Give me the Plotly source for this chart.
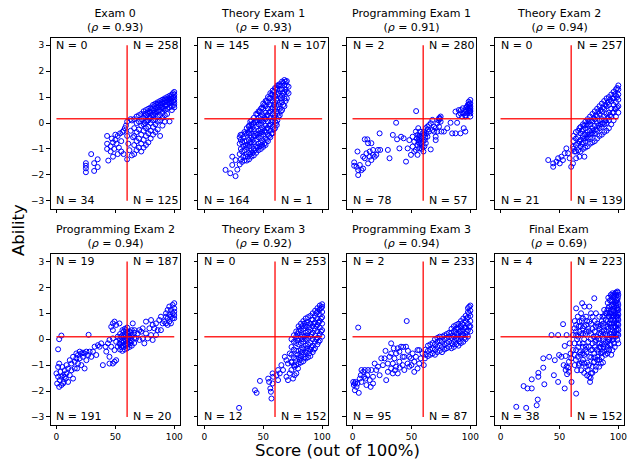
import plotly.graph_objects as go

titles = ["Exam 0", "Theory Exam 1", "Programming Exam 1", "Theory Exam 2",
          "Programming Exam 2", "Theory Exam 3", "Programming Exam 3", "Final Exam"]
rhos = ["0.93", "0.93", "0.91", "0.94", "0.94", "0.92", "0.94", "0.69"]
n_top_left = [0, 145, 2, 0, 19, 0, 2, 4]
n_top_right = [258, 107, 280, 257, 187, 253, 233, 223]
n_bottom_left = [34, 164, 78, 21, 191, 12, 95, 38]
n_bottom_right = [125, 1, 57, 139, 20, 152, 87, 152]
score_cut = 60
ability_cut = [0.16, 0.16, 0.16, 0.16, 0.09, 0.09, 0.09, 0.09]
x_ticks = [0, 50, 100]
y_ticks = [-3, -2, -1, 0, 1, 2, 3]

# points grouped as (score, [abilities...])
exam0 = [
    (25, [-1.55, -1.65, -1.75, -1.9]), (29.5, [-1.2]), (32, [-1.55, -1.85]), (35, [-1.4, -1.7]),
    (43, [-0.5, -0.8, -1.0]), (44, [-1.45]), (46, [-1.1, -0.9]), (47, [-0.6]), (48, [-1.3, -0.75]),
    (49, [-1.0]), (50, [-0.45, -0.65]), (51, [-0.8]), (52, [-1.2, -0.5]), (53, [-0.95]), (54, [-0.4]),
    (55, [-0.7, -1.1]), (56, [-0.35]), (57, [-0.3, -1.2]),
    (58, [-0.2]), (59, [-0.1]), (60, [0.05, -0.5, -1.4]), (61, [-0.8]), (62, [-1.05]), (63, [-0.3, 0.15]),
    (64, [0.1, -1.25]), (65, [-0.55]),
    (66, [0.15, -0.2, -0.5, -0.85, -1.2]), (68, [0.25, 0.0, -0.35, -0.7, -1.05]),
    (70, [0.3, 0.05, -0.25, -0.6, -0.95]), (72, [0.35, 0.15, -0.1, -0.45, -0.8, -1.1]),
    (74, [0.45, 0.2, -0.05, -0.3, -0.65, -0.95]), (76, [0.5, 0.3, 0.05, -0.2, -0.5, -0.85]),
    (78, [0.55, 0.35, 0.1, -0.15, -0.4, -0.75]), (80, [0.6, 0.4, 0.2, 0.0, -0.3, -0.6]),
    (82, [0.7, 0.5, 0.3, 0.1, -0.15, -0.45]), (84, [0.75, 0.55, 0.35, 0.15, -0.05, -0.35]),
    (86, [0.8, 0.6, 0.45, 0.25, 0.05, -0.25]), (88, [0.85, 0.7, 0.5, 0.3, 0.1, -0.5]),
    (90, [0.9, 0.75, 0.6, 0.4, 0.2, -0.1]), (92, [0.95, 0.8, 0.65, 0.5, 0.3, 0.05]),
    (94, [1.0, 0.85, 0.7, 0.55, 0.35]), (96, [1.05, 0.9, 0.75, 0.6, 0.06]),
    (98, [1.1, 0.95, 0.8, 0.65, 0.5]), (100, [1.2, 1.1, 1.0, 0.9, 0.8, 0.7, 0.6]),
    (75, [0.35, 0.0]), (77, [0.4, 0.1]), (79, [0.45, 0.2]), (81, [0.55, 0.3]), (83, [0.65, 0.4]),
    (85, [0.7, 0.45]), (87, [0.75, 0.5]), (89, [0.8, 0.6]), (91, [0.85, 0.55]), (93, [0.9, 0.7]),
    (95, [0.95, 0.8]), (97, [1.0, 0.85]), (99, [1.15, 1.0, 0.85]),
]

theory1 = [
    (18, [-1.81]), (22, [-1.94]), (23.7, [-1.62, -1.3]), (26.5, [-2.05, -1.43]), (28, [-1.8]),
    (30.7, [-0.46]), (37.7, [-0.14]), (39, [0.05]), (61.5, [-0.08]),
    (30, [-1.6, -1.2, -0.8, -0.55]),
    (32, [-1.5, -1.1, -0.75, -0.45]),
    (34, [-1.45, -1.05, -0.7, -0.35]),
    (36, [-1.45, -1.2, -0.95, -0.7, -0.45, -0.2]),
    (38, [-1.4, -1.15, -0.9, -0.65, -0.4, -0.1]),
    (40, [-1.3, -1.05, -0.8, -0.55, -0.3, -0.05, 0.1]),
    (42, [-1.25, -1.0, -0.75, -0.5, -0.25, 0.0, 0.2]),
    (44, [-1.15, -0.9, -0.65, -0.4, -0.15, 0.1, 0.35]),
    (46, [-1.05, -0.8, -0.55, -0.3, -0.05, 0.2, 0.45]),
    (48, [-1.0, -0.75, -0.5, -0.25, 0.0, 0.25, 0.55]),
    (50, [-0.92, -0.7, -0.45, -0.2, 0.05, 0.3, 0.55, 0.75]),
    (52, [-0.85, -0.6, -0.35, -0.1, 0.15, 0.4, 0.65, 0.85]),
    (54, [-0.7, -0.45, -0.2, 0.05, 0.3, 0.55, 0.8, 1.0]),
    (56, [-0.55, -0.3, -0.05, 0.2, 0.45, 0.7, 0.95, 1.15]),
    (58, [-0.4, -0.15, 0.1, 0.35, 0.6, 0.85, 1.1, 1.25]),
    (60, [-0.2, 0.05, 0.3, 0.55, 0.8, 1.05, 1.35]),
    (62, [0.1, 0.35, 0.6, 0.85, 1.1, 1.3, 1.45]),
    (64, [0.3, 0.55, 0.8, 1.05, 1.3, 1.5]),
    (66, [0.5, 0.8, 1.05, 1.3, 1.6]),
    (68, [0.65, 0.95, 1.2, 1.45, 1.66]),
    (70, [0.95, 1.2, 1.45, 1.62]),
    (71.5, [1.15, 1.4]),
    (31, [-1.4, -1.0, -0.65]), (33, [-1.3, -0.9, -0.55]), (35, [-1.3, -0.85, -0.4]),
    (37, [-1.3, -0.85, -0.35]), (39, [-1.2, -0.75, -0.25]), (41, [-1.15, -0.65, -0.15]),
    (43, [-1.05, -0.5, 0.05]), (45, [-0.95, -0.45, 0.05, 0.35]), (47, [-0.9, -0.4, 0.1, 0.45]),
    (49, [-0.85, -0.35, 0.1, 0.6]), (51, [-0.8, -0.3, 0.2, 0.7]), (53, [-0.65, -0.2, 0.3, 0.85]),
    (55, [-0.5, -0.1, 0.4, 0.95]), (57, [-0.4, 0.05, 0.55, 1.1]), (59, [-0.25, 0.2, 0.7, 1.2]),
    (61, [0.0, 0.45, 0.9, 1.35]), (63, [0.25, 0.7, 1.15, 1.45]), (65, [0.45, 0.95, 1.45]),
    (67, [0.7, 1.15, 1.55]), (69, [0.85, 1.3, 1.6]),
]

prog1 = [
    (1.4, [-1.52, -1.65]), (3.4, [-1.69]), (4.8, [-1.82, -2.01]), (6.2, [-1.62]), (7.6, [-1.82]),
    (9, [-1.76, -1.3]), (4.2, [-1.1]),
    (10.4, [-0.63, -1.36]), (12.6, [-0.63]), (13.2, [-0.78, -1.56]), (16, [-0.78, -1.43]),
    (11.8, [-1.17]), (14.6, [-1.1, -1.3]), (17.4, [-1.23, -1.04]), (20.2, [-1.23]), (18.8, [-1.3]),
    (21.6, [-1.04]), (23, [-0.4]), (23.5, [-1.04]),
    (30, [-1.04]), (31.4, [-1.36]), (34.2, [-0.46]), (37, [0.01]), (37.8, [-0.63]), (39.8, [-0.98]),
    (41.2, [-0.53]), (43.4, [-0.59]), (45.4, [-1.49]), (46.8, [-0.98]), (48.2, [-0.66]),
    (49.6, [-1.23]), (51, [-0.91, -0.53]), (52.4, [-1.1, -0.72]),
    (53.8, [-0.33, -1.04]), (55.2, [-0.46, -0.85, -1.23]), (56.6, [-0.66, -0.98]), (58, [-0.78, -0.53]),
    (59.4, [-0.91, -0.4]), (60.8, [-0.33]), (62.2, [-0.2, -0.78]), (63.6, [-0.14, -0.53]),
    (65, [-0.08, -0.33]), (61.3, [-0.66]), (66.4, [-1.02, -0.01]), (54, [0.46]), (60.2, [-1.1]),
    (57.4, [-0.33]), (55.8, [-0.2]),
    (57, [-0.5, -0.8]), (58.8, [-0.6, -1.0]), (61, [-0.45, -0.9]), (62.8, [-0.4]), (64, [-0.25]),
    (56, [-0.55, -0.75]), (54.5, [-0.6]), (59.8, [-0.7]), (61.8, [-0.55]),
    (67.8, [0.12, -0.27]), (69.2, [-0.14, -0.33]), (70.6, [-0.2, -0.53, -0.66]), (72, [-0.01, -0.33]),
    (73.4, [0.18, -0.14]), (74.8, [0.25, 0.05]), (75.4, [-0.33]), (74, [0.15, 0.2]), (73, [0.1]),
    (77.6, [-0.33]), (80.4, [-0.2]), (83.2, [0.01]), (84.6, [-0.4]), (87.4, [-0.4, 0.44]),
    (90.2, [0.5, 0.3]), (91.6, [0.37, -0.4]), (93, [0.25]), (94.4, [0.37, -0.2]),
    (95.8, [0.5, 0.25, -0.33, 0.3]), (97.2, [0.63, 0.37]), (98.6, [0.69, 0.5, 0.82]),
    (100, [0.76, 0.57, 0.37, 0.25, 0.89, 0.65, 0.5, 0.45]), (88.8, [0.01]), (92, [0.5]), (93.6, [0.57]),
    (99.3, [0.6, 0.75, 0.45]), (97.9, [0.55, 0.7]), (96.5, [0.45, 0.6]),
]

theory2 = [
    (40.5, [-1.43]), (44.7, [-1.56, -1.69]), (47.5, [-1.49]), (50.3, [-1.56]), (51.7, [-1.3]),
    (54.5, [-1.17]), (55.9, [-0.98]), (58.7, [-1.36]), (60, [-1.69]), (61.5, [-1.56, -0.91]),
    (64.2, [-1.36]), (53, [-1.43]), (48.9, [-1.36]), (57.3, [-1.17]), (71.2, [-1.3]), (67, [-1.3]),
    (62.8, [-1.1]),
    (62, [-1.0, -0.7, -0.5]), (64, [-1.1, -0.85, -0.6, -0.35]), (66, [-1.05, -0.8, -0.55, -0.3]),
    (67, [-0.7, -0.2]), (68, [-1.1, -0.9, -0.65, -0.4, -0.15]), (69, [-0.8, -0.3]),
    (70, [-1.0, -0.75, -0.5, -0.25, -0.05]), (71, [-0.6, -0.1]),
    (72, [-0.95, -0.7, -0.45, -0.2, 0.05]), (73, [-0.55, -0.05]),
    (74, [-0.9, -0.6, -0.35, -0.1, 0.15]), (75, [-0.45, 0.05]),
    (76, [-0.8, -0.55, -0.3, -0.05, 0.25]), (77, [-0.4, 0.1]),
    (78, [-0.75, -0.45, -0.2, 0.05, 0.35]), (79, [-0.3, 0.2]),
    (80, [-0.7, -0.4, -0.1, 0.15, 0.45]), (81, [-0.25, 0.3]),
    (82, [-0.6, -0.3, 0.0, 0.25, 0.55]), (83, [-0.1, 0.45]),
    (84, [-0.5, -0.2, 0.1, 0.35, 0.65]), (85, [-0.05, 0.5]),
    (86, [-0.45, -0.15, 0.15, 0.45, 0.75]), (87, [0.0, 0.6]),
    (88, [-0.35, -0.05, 0.25, 0.55, 0.85]), (89, [0.1, 0.7]),
    (90, [-0.3, 0.0, 0.35, 0.65, 0.95]), (91, [0.2, 0.8]),
    (92, [-0.2, 0.1, 0.4, 0.7, 1.0]), (93, [0.3, 0.9]),
    (94, [-0.05, 0.25, 0.55, 0.85, 1.1]), (95, [0.4, 0.95]),
    (96, [0.1, 0.4, 0.7, 0.95, 1.2]), (97, [0.55, 1.1]),
    (98, [0.25, 0.55, 0.8, 1.05, 1.3]), (99, [0.6, 1.0, 1.35]),
    (100, [0.4, 0.65, 0.9, 1.1, 1.3, 1.45]),
]

prog2 = [
    (0, [-1.32]), (0.6, [-1.71]), (1.4, [-1.45, -1.07, -0.39]), (2.3, [-0.94, -1.84, 0.0]),
    (2.8, [-1.58]), (3.4, [-1.26]), (4.2, [-1.77, -1.45, 0.14]), (5, [-1.07]), (5.6, [-1.39, -1.71]),
    (6.2, [-1.65]), (7, [-1.2, -1.45]), (7.9, [-1.52]), (8.5, [-1.0, -1.32]), (9.9, [-1.13, -1.65]),
    (11.3, [-1.39, -0.81]),
    (12.7, [-0.94, -1.2]), (14.1, [-0.68, -1.52]), (15.5, [-0.87, -1.13]), (16.9, [-0.74, -0.55]),
    (17.5, [-1.13]), (18.3, [-0.61, -0.94]), (19.7, [-0.74, -0.48]), (21.1, [-0.55, -1.0]),
    (22.5, [-0.68, -0.52]), (23.9, [-0.55, -1.13]), (25.4, [-0.81, -0.48]), (26.8, [-0.61]),
    (27.3, [0.17]), (28.2, [-0.48]), (29.6, [-0.68]), (31, [-0.48]), (32.4, [-0.29]), (33.8, [-0.61]),
    (35.2, [-0.23]), (36.6, [-0.29]), (38, [-0.16]), (39.4, [-1.0]), (41.7, [-0.29]), (42.3, [-0.48]),
    (43.7, [-0.16]), (45, [-0.68, -0.94, -0.03]), (46.5, [0.48, -0.29]),
    (47.9, [0.61, 0.35, -0.94, 0.03]), (49.3, [0.68, -0.87, -0.42]), (50.7, [0.55, -0.81, -0.1]),
    (52.1, [0.1, -0.29]), (53.5, [0.61, -0.16]),
    (54, [-0.4, -0.2, 0.0, 0.2]), (55, [-0.3, -0.1, 0.1]), (56, [-0.45, -0.25, -0.05, 0.15, 0.35]),
    (57, [-0.3, -0.1, 0.1, 0.3]), (58, [-0.4, -0.2, 0.0, 0.2, 0.4]), (59, [-0.25, -0.05, 0.15, 0.35]),
    (60, [-0.35, -0.15, 0.05, 0.25, 0.45]), (61, [-0.2, 0.0, 0.2]), (62, [-0.3, -0.1, 0.1, 0.3]),
    (63, [-0.15, 0.05, 0.25]), (64, [-0.25, -0.05, 0.15, 0.35]), (66, [-0.15, 0.05, 0.25]),
    (64.8, [0.61]), (66.2, [0.35]), (67.6, [0.03]), (69, [0.22]), (70.4, [0.35, -0.03]), (71.8, [0.29]),
    (73.2, [0.42, 0.03]), (74.6, [-0.16]), (76, [0.68, 0.22]), (77.5, [0.03]), (78.9, [0.42]),
    (80.3, [0.74, 0.16]), (81.7, [-0.03, 0.55]), (83.1, [0.42]), (84.5, [0.61, 0.16]), (85.9, [0.35]),
    (87.3, [0.74]), (88.7, [0.87, 0.35]), (90.1, [0.61]), (91.5, [0.68]), (93, [0.87, 1.0, 0.61]),
    (94.4, [1.13, 0.81, 0.55]), (95.8, [1.26, 0.93, 0.68]), (97.2, [1.13, 0.87, 0.61]),
    (98.6, [1.32, 1.0, 0.81]), (100, [1.39, 1.19, 1.06, 0.93, 0.81]),
]

theory3 = [
    (29.5, [-2.65]), (43, [-1.97]), (44.4, [-2.07]), (47.2, [-1.61]), (54.2, [-1.52]), (56.5, [-2.03]),
    (57, [-2.29]), (55, [-1.65]), (57.9, [-1.71, -1.32]), (58.5, [-1.45]), (56, [-1.9]),
    (61.3, [-1.39]), (62.6, [-1.58, -1.19]), (64, [-1.32]), (65.4, [-1.0]), (66.8, [-1.19]),
    (68.3, [-0.68]), (69.7, [-1.45, -0.81]), (71, [-1.58, -0.94]), (72.5, [-1.32, -0.55]),
    (73.9, [-1.19, -0.87]), (75.3, [-1.52]), (76.7, [-1.39, -1.06]), (78.1, [-1.32]), (79.5, [-1.13]),
    (74, [-0.9, -0.6, -0.3, 0.0]), (76, [-1.0, -0.7, -0.4, -0.1, 0.15]),
    (78, [-1.0, -0.75, -0.45, -0.15, 0.1, 0.3]), (79, [-0.6, -0.05, 0.2]),
    (80, [-0.95, -0.7, -0.45, -0.2, 0.05, 0.3, 0.5]), (81, [-0.8, 0.4]),
    (82, [-0.9, -0.65, -0.4, -0.15, 0.1, 0.35, 0.6]), (83, [-0.5, 0.0, 0.5]),
    (84, [-0.85, -0.6, -0.35, -0.1, 0.15, 0.4, 0.7]), (85, [-0.7, 0.1, 0.6]),
    (86, [-0.75, -0.5, -0.25, 0.0, 0.25, 0.5, 0.8]), (87, [-0.35, 0.15, 0.65]),
    (88, [-0.7, -0.45, -0.2, 0.05, 0.3, 0.55, 0.85]), (89, [-0.55, 0.45]),
    (90, [-0.65, -0.4, -0.15, 0.1, 0.35, 0.6, 0.9]), (91, [-0.3, 0.2, 0.75]),
    (92, [-0.5, -0.25, 0.0, 0.25, 0.5, 0.75, 1.0]), (93, [-0.4, 0.6]),
    (94, [-0.35, -0.1, 0.15, 0.4, 0.65, 0.9, 1.1]), (95, [0.0, 0.5, 1.0]),
    (96, [-0.2, 0.05, 0.3, 0.55, 0.8, 1.05, 1.2]), (97, [-0.1, 0.65]),
    (98, [-0.05, 0.2, 0.45, 0.7, 0.95, 1.15, 1.3]), (99, [0.3, 0.8, 1.2]),
    (100, [0.1, 0.35, 0.6, 0.85, 1.05, 1.25, 1.35]),
]

prog3 = [
    (1.1, [-1.77]), (2, [-1.97, -1.71]), (2.5, [-1.65]), (3.4, [-1.84]), (4.2, [-1.71]), (5.3, [-2.07]),
    (6.2, [-1.52]), (7, [-1.39]), (7.6, [-1.65, -1.19]), (9, [-1.26]), (9.8, [-1.45]), (10.4, [-1.19]),
    (11, [-1.52]), (11.8, [-1.77]), (12.6, [-1.39]), (13.2, [-1.19]), (14.6, [-1.58]), (15.4, [-1.84]),
    (16, [-1.19]), (17.4, [-1.45, -1.71]), (18.8, [-0.94]), (20.2, [-1.19]), (21.6, [-1.06]),
    (23, [-1.39]), (24.4, [-0.74]), (25.8, [-1.0]), (27.2, [-0.74]), (28.6, [-1.58]),
    (30, [-1.26, -0.94]), (31.4, [-0.68]), (32.8, [-0.55, -0.16, -1.13]), (34.2, [-0.94, -1.32]),
    (0.6, [-1.65]), (4.8, [0.45]), (46, [0.7]),
    (28, [-0.45]), (35, [-0.35]), (43, [-0.3]), (47, [-0.45]), (50, [-1.0]), (36, [-1.2]), (40, [-1.1]),
    (35.6, [-0.74]), (37, [-1.06, -0.55]), (38.4, [-1.32, -0.35]), (39.8, [-0.87, -0.48]),
    (41.2, [-0.29]), (42.6, [-0.68, -1.0]), (44, [-1.19, -0.68]), (45.4, [-0.29]), (46.8, [-0.94]),
    (48.2, [-1.06, -0.68]), (49.6, [-0.74]), (51, [-0.55]), (52.4, [-1.26, -0.87]), (53.8, [-0.68]),
    (55.2, [-0.42, -1.13]), (56.6, [-0.94, -0.42]), (58, [-0.74]), (59.4, [-0.55]), (61.5, [-0.74]),
    (60.5, [-1.0]),
    (62, [-0.6, -0.4]), (64, [-0.65, -0.45, -0.25]), (66, [-0.6, -0.4, -0.2]), (68, [-0.55, -0.35, -0.15]),
    (70, [-0.6, -0.4, -0.2, 0.0]), (72, [-0.5, -0.3, -0.1, 0.05]), (74, [-0.45, -0.25, -0.05, 0.1]),
    (76, [-0.5, -0.3, -0.1, 0.1]), (78, [-0.4, -0.2, 0.0, 0.15]), (80, [-0.35, -0.15, 0.05, 0.2]),
    (82, [-0.3, -0.1, 0.1, 0.25]), (84, [-0.35, -0.15, 0.05, 0.25, 0.4]), (85, [0.15, -0.2]),
    (86, [-0.3, -0.1, 0.1, 0.3, 0.5]), (88, [-0.2, 0.0, 0.2, 0.4, 0.55]), (89, [0.1, 0.45]),
    (90, [-0.25, 0.0, 0.2, 0.4, 0.6]), (91, [-0.1, 0.3]), (92, [-0.15, 0.1, 0.3, 0.5, 0.7]),
    (93, [0.2, 0.6]), (94, [-0.1, 0.15, 0.35, 0.55, 0.8]), (95, [0.05, 0.45]),
    (96, [0.0, 0.2, 0.45, 0.7, 0.9]), (97, [0.3, 0.8]), (98, [0.1, 0.35, 0.6, 0.85, 1.05, 1.2]),
    (99, [0.5, 1.0, 1.25]), (100, [0.3, 0.5, 0.7, 0.9, 1.1, 1.3]),
]

final = [
    (13.4, [-2.61]), (21.8, [-2.65]), (30.7, [-2.55]), (31.6, [-2.33]), (19.6, [-1.81]), (22.9, [-1.9]),
    (26.5, [-1.9, -1.55]), (32.1, [-1.3, -1.45]), (37.2, [-1.74]), (36.3, [-1.1, -0.74]), (41.3, [-0.68]),
    (43.3, [0.16]), (46.1, [-0.81]), (45.3, [-1.39]), (48.9, [-1.65, 0.16]), (49.7, [-0.61]),
    (51.7, [-0.68]), (53.1, [0.58]), (54.5, [-0.26, -1.9]), (55.3, [-0.65, -1.19]), (53.6, [-1.0]),
    (56.1, [-1.06, 0.16]), (58.1, [-0.87, -1.26]), (59.5, [-0.55]), (60.3, [-1.65]), (64.2, [-2.1]),
    (56.5, [-1.35]), (57.5, [-1.1]),
    (64.2, [1.19, 0.55, 0.16, -0.42]), (69.3, [1.39]), (71.2, [1.26, -0.94]),
    (75.4, [1.26, 0.68, -1.45, -0.68]), (79.6, [1.58, -0.87, -0.55]), (65.6, [0.87, -0.68]),
    (67, [0.68, 0.29, -0.94, -0.16]), (62.8, [0.42, -0.16]), (61.5, [0.16, -0.42]),
    (69.8, [0.42, -0.55, -0.16]), (72.6, [0.55, 0.87, -1.06, -0.29]), (78.2, [0.87, -1.06, -0.16]),
    (81, [1.0, -1.06, -0.03, 0.48]), (76.8, [1.0, -1.32, -0.42]), (68.4, [1.0]), (74, [-1.19]),
    (76, [-1.65]), (83.8, [-1.06, -0.16, 0.23, 0.87]), (85.2, [-0.94, -0.55, 0.55]), (82.4, [-0.68]),
    (88, [-0.48, 0.35, 1.13]), (90.8, [-0.55, -0.29, 0.16, 0.48, 1.13]),
    (92.2, [-0.42, -0.03, 1.26, 0.87, 0.61]), (89.4, [-0.1, 0.74]), (86.6, [0.1, 0.87]),
    (93.6, [-0.23, 1.71, 1.13, 0.74, 0.48]), (58.7, [-0.16]), (60, [-0.74]),
    (95, [1.77, 1.45, 0.87, 0.35, -0.03, -0.42]), (96.4, [1.65, 1.26, 0.61, 0.23, -0.16]),
    (97.8, [1.8, 1.39, 1.0, 0.48, 0.1]), (99.2, [1.84, 1.52, 1.13, -0.03, 0.87]),
    (100, [1.71, 1.32, 1.13, 0.94, 0.74, 0.55, 0.35, 0.16, -0.16]),
    (66, [0.1, -0.3]), (68, [0.5, -0.6]), (70, [0.8, 0.2, -0.3, -0.8]), (73, [0.3, -0.5]),
    (74.5, [0.4, -0.1]), (77, [0.6, 0.2, -0.7]), (80, [0.7, 0.3, -0.3, -0.7]), (82, [0.6, 0.1, -0.4]),
    (84, [0.4, -0.3, -0.8]), (86, [-0.2, 0.3, -0.7]), (87, [0.6, -0.9]), (89, [0.2, -0.6, 1.0]),
    (91, [0.7, -0.1, 1.4]), (94, [0.2, 0.9, 1.5, -0.6]), (97, [0.7, 0.3, 1.6, -0.3]),
    (98.5, [1.2, 0.6, 0.2]), (96, [1.1, 0.9, 0.0]),
    (63, [0.7, -0.6, -1.0]), (64, [0.3, -0.8]), (65, [0.0, -1.2]), (66.5, [0.5, -1.0]),
    (67.5, [-0.5]), (68.5, [0.2, -1.2]), (69, [0.7, -0.9]), (71, [0.5, 0.0, -0.6, -1.3]),
    (72, [0.2, -0.4]), (73.5, [0.7, -0.9, -1.4]), (75, [0.3, -0.3, -1.0]),
    (76.5, [0.0, -1.5]), (78, [0.4, -0.4, -1.3]), (79, [0.1, -0.9]),
    (80.5, [-0.1, -1.2]), (82, [-0.8]), (83, [0.5, 0.0, -0.5]), (85, [0.2, -0.3]),
    (86, [0.7, -0.5]), (87.5, [0.5, 0.0, -0.3]), (88.5, [0.9, -0.2]),
    (90, [1.0, 0.3, -0.4]), (91.5, [1.6, 1.2, 0.9, 0.4, 0.0]), (92.8, [1.5, 1.0, 0.6, 0.2, -0.2]),
    (94.3, [1.65, 1.3, 1.0, 0.6, 0.1]), (95.7, [1.7, 1.35, 1.1, 0.75, 0.45, 0.1]),
    (97, [1.75, 1.45, 1.2, 0.95, 0.5]), (98.3, [1.7, 1.5, 1.3, 0.9, 0.75, 0.35]),
    (99.6, [1.8, 1.6, 1.4, 1.2, 1.0, 0.8, 0.6, 0.4, 0.2]),
]

panels = [exam0, theory1, prog1, theory2, prog2, theory3, prog3, final]

W, H = 628, 462
col_left = [50.8, 199.4, 348.3, 497.0]
col_w = 130.2
row_top = [37.5, 253.7]
row_h = 171.0
FONT = "DejaVu Sans"

fig = go.Figure()
annotations = []

for i, pts in enumerate(panels):
    r, c = divmod(i, 4)
    k = i + 1
    xa = "x" if k == 1 else f"x{k}"
    ya = "y" if k == 1 else f"y{k}"
    xs, ys = [], []
    for sx, alist in pts:
        for a in alist:
            xs.append(sx)
            ys.append(a)
    fig.add_trace(go.Scatter(
        x=xs, y=ys, mode="markers", xaxis=xa, yaxis=ya, showlegend=False,
        marker=dict(symbol="circle-open", size=5, color="blue", line=dict(width=1, color="blue")),
        hoverinfo="skip"))
    fig.add_trace(go.Scatter(
        x=[0, 100], y=[ability_cut[i], ability_cut[i]], mode="lines", xaxis=xa, yaxis=ya,
        showlegend=False, line=dict(color="rgba(255,0,0,0.85)", width=1.5), hoverinfo="skip"))
    fig.add_trace(go.Scatter(
        x=[score_cut, score_cut], y=[-3, 3], mode="lines", xaxis=xa, yaxis=ya,
        showlegend=False, line=dict(color="rgba(255,0,0,0.85)", width=1.5), hoverinfo="skip"))

    left = col_left[c]
    top = row_top[r]
    xdom = [left / W, (left + col_w) / W]
    ydom = [1 - (top + row_h) / H, 1 - top / H]
    axis_common = dict(showline=True, linecolor="black", linewidth=1, mirror=True,
                       ticks="outside", ticklen=3.5, tickwidth=1, tickcolor="black",
                       showgrid=False, zeroline=False,
                       tickfont=dict(family=FONT, size=9, color="black"))
    xkey = "xaxis" if k == 1 else f"xaxis{k}"
    ykey = "yaxis" if k == 1 else f"yaxis{k}"
    fig.update_layout(**{
        xkey: dict(domain=xdom, range=[-5, 105], tickvals=x_ticks, anchor=ya,
                   showticklabels=(r == 1), **axis_common),
        ykey: dict(domain=ydom, range=[-3.3, 3.3], tickvals=y_ticks, anchor=xa,
                   showticklabels=(c == 0), **axis_common),
    })

    # title
    annotations.append(dict(
        x=(xdom[0] + xdom[1]) / 2, y=ydom[1], xref="paper", yref="paper",
        xanchor="center", yanchor="bottom", yshift=2, showarrow=False,
        text=f"{titles[i]}<br>(<i>ρ</i> = {rhos[i]})",
        font=dict(family=FONT, size=11, color="black")))
    # counts
    for (tx, ty, val) in [(0, 3, n_top_left[i]), (65, 3, n_top_right[i]),
                          (0, -3, n_bottom_left[i]), (65, -3, n_bottom_right[i])]:
        annotations.append(dict(
            x=tx, y=ty, xref=xa, yref=ya, xanchor="left", yanchor="middle",
            showarrow=False, text=f"N = {val}", xshift=-2,
            font=dict(family=FONT, size=11, color="black")))

annotations.append(dict(
    x=18 / W, y=1 - 230 / H, xref="paper", yref="paper", xanchor="center", yanchor="middle",
    textangle=-90, showarrow=False, text="Ability",
    font=dict(family=FONT, size=16.5, color="black")))
annotations.append(dict(
    x=339 / W, y=1 - 450 / H, xref="paper", yref="paper", xanchor="center", yanchor="middle",
    showarrow=False, text="Score (out of 100%)",
    font=dict(family=FONT, size=16.5, color="black")))

fig.update_layout(width=W, height=H, margin=dict(l=0, r=0, t=0, b=0),
                  paper_bgcolor="white", plot_bgcolor="white",
                  annotations=annotations, showlegend=False,
                  font=dict(family=FONT, color="black"))

fig.write_html("out.html", config={"displayModeBar": False},
               post_script="document.body.style.margin='0';document.body.style.padding='0';"
                           "document.body.style.overflow='hidden';")
